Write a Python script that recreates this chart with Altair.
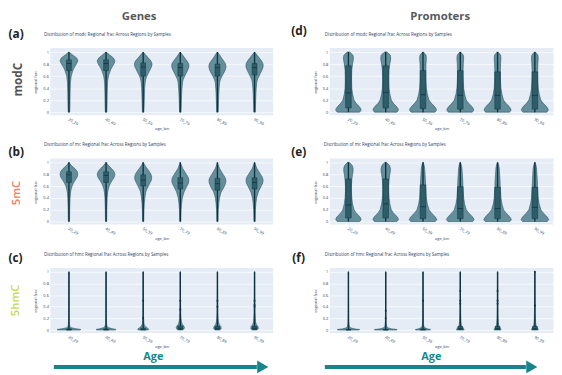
import altair as alt
import pandas as pd

AGE_BINS = ["20_29", "40_49", "50_59", "70_79", "80_89", "90_99"]
Y_TICKS = [0, 0.2, 0.4, 0.6, 0.8, 1]

# ---------- (a) modC, genes ----------
A_LEVELS = [0, 0.1, 0.2, 0.3, 0.4, 0.5, 0.55, 0.6, 0.65, 0.7, 0.75, 0.8, 0.85, 0.9, 0.95, 1.0]
A_WIDTHS = [
    [0.02, 0.025, 0.028, 0.03, 0.034, 0.04, 0.05, 0.06, 0.085, 0.11, 0.15, 0.2, 0.24, 0.21, 0.1, 0.0],
    [0.02, 0.025, 0.028, 0.03, 0.034, 0.04, 0.05, 0.065, 0.09, 0.12, 0.16, 0.21, 0.24, 0.2, 0.1, 0.0],
    [0.02, 0.025, 0.03, 0.035, 0.04, 0.055, 0.07, 0.1, 0.14, 0.18, 0.22, 0.24, 0.21, 0.14, 0.07, 0.0],
    [0.02, 0.025, 0.03, 0.035, 0.045, 0.06, 0.08, 0.12, 0.16, 0.2, 0.23, 0.23, 0.18, 0.12, 0.06, 0.0],
    [0.02, 0.025, 0.03, 0.035, 0.045, 0.06, 0.085, 0.125, 0.17, 0.21, 0.23, 0.22, 0.17, 0.11, 0.06, 0.0],
    [0.02, 0.025, 0.03, 0.035, 0.045, 0.06, 0.08, 0.12, 0.16, 0.2, 0.23, 0.23, 0.19, 0.13, 0.065, 0.0],
]
A_Q1 = [0.69, 0.69, 0.60, 0.60, 0.60, 0.62]
A_MED = [0.81, 0.81, 0.75, 0.74, 0.74, 0.74]
A_Q3 = [0.87, 0.87, 0.82, 0.81, 0.80, 0.81]

# ---------- (b) 5mC, genes ----------
B_LEVELS = [0, 0.1, 0.2, 0.3, 0.4, 0.5, 0.55, 0.6, 0.65, 0.7, 0.75, 0.8, 0.85, 0.9, 0.95, 1.0]
B_WIDTHS = [
    [0.015, 0.018, 0.02, 0.025, 0.03, 0.045, 0.06, 0.085, 0.12, 0.17, 0.22, 0.24, 0.22, 0.15, 0.06, 0.0],
    [0.015, 0.018, 0.02, 0.025, 0.03, 0.045, 0.06, 0.085, 0.12, 0.17, 0.22, 0.24, 0.21, 0.14, 0.06, 0.0],
    [0.015, 0.018, 0.022, 0.03, 0.045, 0.07, 0.1, 0.14, 0.18, 0.22, 0.23, 0.21, 0.16, 0.1, 0.045, 0.0],
    [0.015, 0.018, 0.022, 0.035, 0.055, 0.1, 0.14, 0.18, 0.22, 0.23, 0.21, 0.16, 0.11, 0.06, 0.03, 0.0],
    [0.015, 0.018, 0.022, 0.035, 0.055, 0.1, 0.15, 0.19, 0.22, 0.23, 0.2, 0.15, 0.1, 0.055, 0.025, 0.0],
    [0.015, 0.018, 0.022, 0.035, 0.055, 0.1, 0.14, 0.18, 0.22, 0.23, 0.21, 0.16, 0.11, 0.06, 0.03, 0.0],
]
B_Q1 = [0.66, 0.66, 0.60, 0.55, 0.53, 0.55]
B_MED = [0.79, 0.78, 0.70, 0.65, 0.64, 0.66]
B_Q3 = [0.84, 0.84, 0.79, 0.74, 0.73, 0.74]

# ---------- (c) 5hmC, genes ----------
C_LEVELS = [0, 0.01, 0.02, 0.04, 0.06, 0.08, 0.1, 0.15, 0.2, 0.3, 0.5, 0.7, 1.0]
C_WIDTHS = [
    [0.30, 0.32, 0.20, 0.06, 0.03, 0.02, 0.015, 0.01, 0.008, 0.006, 0.005, 0.004, 0.003],
    [0.25, 0.27, 0.18, 0.07, 0.035, 0.02, 0.015, 0.01, 0.008, 0.006, 0.005, 0.004, 0.003],
    [0.12, 0.15, 0.14, 0.10, 0.06, 0.04, 0.025, 0.015, 0.01, 0.007, 0.005, 0.004, 0.003],
    [0.06, 0.08, 0.10, 0.11, 0.10, 0.08, 0.05, 0.03, 0.02, 0.012, 0.006, 0.004, 0.003],
    [0.06, 0.08, 0.10, 0.10, 0.09, 0.07, 0.045, 0.025, 0.018, 0.01, 0.006, 0.004, 0.003],
    [0.06, 0.08, 0.10, 0.10, 0.09, 0.07, 0.045, 0.025, 0.02, 0.012, 0.006, 0.004, 0.003],
]
C_Q1 = [0.0, 0.0, 0.0, 0.01, 0.01, 0.01]
C_MED = [0.005, 0.005, 0.01, 0.03, 0.03, 0.03]
C_Q3 = [0.02, 0.02, 0.03, 0.07, 0.06, 0.06]
C_PT_IDX = [2, 2, 3, 3, 4, 4, 5, 5, 5]
C_PT_Y = [0.5, 0.2, 0.5, 0.35, 0.5, 0.4, 0.5, 0.43, 0.4]

# ---------- (d) modC, promoters ----------
D_LEVELS = [0, 0.03, 0.06, 0.1, 0.15, 0.2, 0.3, 0.4, 0.5, 0.6, 0.7, 0.8, 0.85, 0.9, 0.95, 1.0]
D_WIDTHS = [
    [0.30, 0.34, 0.33, 0.28, 0.20, 0.15, 0.11, 0.09, 0.085, 0.085, 0.09, 0.11, 0.125, 0.135, 0.12, 0.03],
    [0.30, 0.34, 0.33, 0.28, 0.20, 0.15, 0.11, 0.09, 0.085, 0.085, 0.09, 0.11, 0.125, 0.135, 0.12, 0.03],
    [0.32, 0.36, 0.35, 0.30, 0.22, 0.16, 0.115, 0.09, 0.08, 0.075, 0.075, 0.08, 0.085, 0.09, 0.08, 0.01],
    [0.32, 0.36, 0.35, 0.30, 0.22, 0.16, 0.115, 0.09, 0.08, 0.075, 0.075, 0.08, 0.085, 0.09, 0.08, 0.01],
    [0.32, 0.36, 0.35, 0.30, 0.22, 0.16, 0.115, 0.09, 0.08, 0.075, 0.075, 0.08, 0.085, 0.09, 0.08, 0.01],
    [0.32, 0.36, 0.35, 0.30, 0.22, 0.16, 0.115, 0.09, 0.08, 0.075, 0.075, 0.08, 0.085, 0.09, 0.08, 0.01],
]
D_Q1 = [0.07, 0.07, 0.06, 0.05, 0.05, 0.05]
D_MED = [0.32, 0.33, 0.29, 0.28, 0.28, 0.28]
D_Q3 = [0.77, 0.77, 0.69, 0.69, 0.67, 0.67]

# ---------- (e) 5mC, promoters ----------
E_LEVELS = [0, 0.03, 0.06, 0.1, 0.15, 0.2, 0.3, 0.4, 0.5, 0.6, 0.7, 0.8, 0.85, 0.9, 0.95, 1.0]
E_WIDTHS = [
    [0.30, 0.34, 0.33, 0.28, 0.20, 0.15, 0.11, 0.09, 0.08, 0.08, 0.09, 0.11, 0.125, 0.125, 0.10, 0.02],
    [0.30, 0.34, 0.33, 0.28, 0.20, 0.15, 0.11, 0.09, 0.08, 0.08, 0.09, 0.11, 0.125, 0.125, 0.10, 0.02],
    [0.33, 0.37, 0.35, 0.30, 0.22, 0.16, 0.115, 0.09, 0.08, 0.07, 0.065, 0.055, 0.05, 0.045, 0.03, 0.005],
    [0.33, 0.37, 0.35, 0.30, 0.22, 0.16, 0.115, 0.09, 0.08, 0.07, 0.065, 0.055, 0.05, 0.045, 0.03, 0.005],
    [0.33, 0.37, 0.35, 0.30, 0.22, 0.16, 0.115, 0.09, 0.08, 0.07, 0.065, 0.055, 0.05, 0.045, 0.03, 0.005],
    [0.33, 0.37, 0.35, 0.30, 0.22, 0.16, 0.115, 0.09, 0.08, 0.07, 0.065, 0.055, 0.05, 0.045, 0.03, 0.005],
]
E_Q1 = [0.06, 0.06, 0.05, 0.05, 0.05, 0.05]
E_MED = [0.28, 0.30, 0.25, 0.22, 0.22, 0.24]
E_Q3 = [0.72, 0.72, 0.62, 0.59, 0.58, 0.58]

# ---------- (f) 5hmC, promoters ----------
F_LEVELS = [0, 0.01, 0.02, 0.04, 0.06, 0.08, 0.1, 0.15, 0.2, 0.3, 0.5, 0.7, 1.0]
F_WIDTHS = [
    [0.28, 0.30, 0.15, 0.05, 0.03, 0.02, 0.015, 0.01, 0.008, 0.006, 0.004, 0.003, 0.003],
    [0.30, 0.30, 0.15, 0.05, 0.03, 0.02, 0.015, 0.01, 0.008, 0.006, 0.004, 0.003, 0.003],
    [0.20, 0.20, 0.12, 0.05, 0.03, 0.02, 0.015, 0.012, 0.01, 0.008, 0.005, 0.003, 0.003],
    [0.10, 0.10, 0.09, 0.07, 0.05, 0.035, 0.025, 0.018, 0.014, 0.01, 0.007, 0.004, 0.003],
    [0.09, 0.09, 0.08, 0.065, 0.05, 0.035, 0.025, 0.018, 0.014, 0.01, 0.007, 0.004, 0.003],
    [0.09, 0.09, 0.08, 0.065, 0.05, 0.035, 0.025, 0.018, 0.014, 0.01, 0.007, 0.004, 0.003],
]
F_Q1 = [0.0, 0.0, 0.0, 0.01, 0.01, 0.01]
F_MED = [0.003, 0.003, 0.005, 0.02, 0.02, 0.02]
F_Q3 = [0.01, 0.01, 0.02, 0.06, 0.06, 0.06]
F_PT_IDX = [1, 1, 2, 3, 3, 3, 4, 4, 4, 5, 5]
F_PT_Y = [0.33, 0.2, 0.5, 0.67, 0.5, 0.45, 0.67, 0.5, 0.45, 1.0, 0.42]

MIN_V = [0, 0, 0, 0, 0, 0]
MAX_V = [1, 1, 1, 1, 1, 1]

VIOLIN_FILL = "#5f8a97"
VIOLIN_LINE = "#234f5c"
BOX_FILL = "#2f5c69"
WHISKER = "#0c3540"
TEAL = "#17868b"
FONT = "Open Sans"
PLOTLY_TXT = "#2a3f5f"

W1, W2 = 226, 227
H1, H2, H3 = 68, 67, 66


def text_layer(txt, x, y, size, color, weight="normal", angle=0, align="left"):
    return alt.Chart(alt.Data(values=[{}])).mark_text(
        text=txt, fontSize=size, font=FONT, color=color, fontWeight=weight,
        angle=angle, align=align, baseline="middle"
    ).encode(x=alt.value(x), y=alt.value(y))


def panel(levels, widths, q1, med, q3, width, height, box_hw, title_txt, texts, pts=None):
    rows = []
    for i, ws in enumerate(widths):
        for yv, wv in zip(levels, ws):
            rows.append({"idx": i, "y": yv, "w": wv})
    vdf = pd.DataFrame(rows)
    bdf = pd.DataFrame({"idx": list(range(6)), "q1": q1, "med": med, "q3": q3,
                        "lo": MIN_V, "hi": MAX_V})

    label_expr = "[" + ",".join("'%s'" % a for a in AGE_BINS) + "][datum.value]"
    xs = alt.Scale(domain=[-0.5, 5.5], nice=False, zero=False)
    ys = alt.Scale(domain=[-0.05, 1.065], nice=False, zero=False)

    def xaxis():
        return alt.Axis(values=list(range(6)), labelExpr=label_expr, labelAngle=30,
                        labelFontSize=4, labelColor=PLOTLY_TXT, labelFont=FONT,
                        labelPadding=2, ticks=False, domain=False, grid=False,
                        labelOverlap=False,
                        title="age_bin", titleFontSize=4, titleFont=FONT,
                        titleColor=PLOTLY_TXT, titleFontWeight="normal", titlePadding=1)

    def yaxis():
        return alt.Axis(values=Y_TICKS, format="~g", labelFontSize=4,
                        labelColor=PLOTLY_TXT, labelFont=FONT, labelPadding=2,
                        labelOverlap=False, labelFlush=False,
                        ticks=False, domain=False, grid=True, gridColor="white",
                        gridWidth=0.7, title="regional frac", titleFontSize=4,
                        titleFont=FONT, titleColor=PLOTLY_TXT,
                        titleFontWeight="normal", titlePadding=5)

    violin = alt.Chart(vdf).transform_calculate(
        xl="datum.idx - datum.w", xr="datum.idx + datum.w"
    ).mark_area(orient="horizontal", color=VIOLIN_FILL, opacity=0.95,
                stroke=VIOLIN_LINE, strokeWidth=0.6).encode(
        y=alt.Y("y:Q", scale=ys, axis=yaxis()),
        x=alt.X("xl:Q", scale=xs, axis=xaxis()),
        x2="xr:Q",
        detail="idx:N",
    )
    bbase = alt.Chart(bdf).transform_calculate(
        bl="datum.idx - %f" % box_hw, br="datum.idx + %f" % box_hw
    )
    whisk = bbase.mark_rule(color=WHISKER, strokeWidth=1.4).encode(
        x=alt.X("idx:Q", scale=xs, axis=xaxis()),
        y=alt.Y("lo:Q", scale=ys, axis=yaxis()), y2="hi:Q")
    box = bbase.mark_rect(color=BOX_FILL, stroke=WHISKER, strokeWidth=0.5).encode(
        x=alt.X("bl:Q", scale=xs, axis=xaxis()), x2="br:Q",
        y=alt.Y("q1:Q", scale=ys, axis=yaxis()), y2="q3:Q")
    medl = bbase.mark_rule(color=WHISKER, strokeWidth=0.8).encode(
        x=alt.X("bl:Q", scale=xs, axis=xaxis()), x2="br:Q",
        y=alt.Y("med:Q", scale=ys, axis=yaxis()))
    layers = [violin, whisk, box, medl]
    if pts is not None:
        pdf = pd.DataFrame({"idx": pts[0], "y": pts[1]})
        layers.append(alt.Chart(pdf).mark_circle(size=4, color=WHISKER, opacity=1).encode(
            x=alt.X("idx:Q", scale=xs, axis=xaxis()),
            y=alt.Y("y:Q", scale=ys, axis=yaxis())))
    layers.append(text_layer(title_txt, texts["tx"], texts["ty"], 4.5, PLOTLY_TXT))
    layers.extend(texts["extra"])
    return alt.layer(*layers).properties(width=width, height=height)


def arrow(x1, x2, y):
    line = alt.Chart(alt.Data(values=[{}])).mark_rule(
        color=TEAL, strokeWidth=4, strokeCap="butt").encode(
        x=alt.value(x1), x2=alt.value(x2), y=alt.value(y))
    head = alt.Chart(alt.Data(values=[{}])).mark_point(
        shape="triangle-right", filled=True, size=170, color=TEAL, opacity=1).encode(
        x=alt.value(x2 + 6), y=alt.value(y))
    return [line, head]


anchor = alt.Chart(alt.Data(values=[{}])).mark_point(
    shape="square", size=1, opacity=0, filled=True).encode(
    x=alt.value(-42.5), y=alt.value(-37))

pa = panel(A_LEVELS, A_WIDTHS, A_Q1, A_MED, A_Q3, W1, H1, 0.065,
           "Distribution of modc Regional frac Across Regions by Samples",
           {"tx": -6.5, "ty": -13, "extra": [
               anchor,
               text_layer("Genes", 90, -31.5, 11.5, "#595959", "bold", align="center"),
               text_layer("(a)", -42.5, -14.5, 12, "#222222", "bold"),
               text_layer("modC", -32.5, 32, 12, "#555555", "bold", angle=270, align="center"),
           ]})
pb = panel(B_LEVELS, B_WIDTHS, B_Q1, B_MED, B_Q3, W1, H2, 0.065,
           "Distribution of mc Regional frac Across Regions by Samples",
           {"tx": -6.5, "ty": -14, "extra": [
               text_layer("(b)", -42.5, -7, 12, "#222222", "bold"),
               text_layer("5mC", -34, 35, 11.5, "#f47c5c", 600, angle=270, align="center"),
           ]})
pc = panel(C_LEVELS, C_WIDTHS, C_Q1, C_MED, C_Q3, W1, H3, 0.065,
           "Distribution of hmc Regional frac Across Regions by Samples",
           {"tx": -6.5, "ty": -13, "extra": [
               text_layer("(c)", -42.5, -10, 12, "#222222", "bold"),
               text_layer("5hmC", -35, 33, 11.5, "#c5db4c", 600, angle=270, align="center"),
               text_layer("Age", 104.5, 90.5, 11, TEAL, "bold", align="center"),
           ] + arrow(3.5, 209.5, 100.5)},
           pts=(C_PT_IDX, C_PT_Y))
pd_ = panel(D_LEVELS, D_WIDTHS, D_Q1, D_MED, D_Q3, W2, H1, 0.075,
            "Distribution of modc Regional frac Across Regions by Samples",
            {"tx": -5, "ty": -13, "extra": [
                text_layer("Promoters", 112, -31.5, 11.5, "#595959", "bold", align="center"),
                text_layer("(d)", -39, -17, 12, "#222222", "bold"),
            ]})
pe = panel(E_LEVELS, E_WIDTHS, E_Q1, E_MED, E_Q3, W2, H2, 0.075,
           "Distribution of mc Regional frac Across Regions by Samples",
           {"tx": -6, "ty": -14, "extra": [
               text_layer("(e)", -39, -7, 12, "#222222", "bold"),
           ]})
pf = panel(F_LEVELS, F_WIDTHS, F_Q1, F_MED, F_Q3, W2, H3, 0.065,
           "Distribution of hmc Regional frac Across Regions by Samples",
           {"tx": -5, "ty": -13, "extra": [
               text_layer("(f)", -38, -10, 12, "#222222", "bold"),
               text_layer("Age", 103, 90.5, 11, TEAL, "bold", align="center"),
           ] + arrow(-5, 199, 100.5)},
           pts=(F_PT_IDX, F_PT_Y))

chart = alt.concat(pa, pd_, pb, pe, pc, pf, columns=2,
                   spacing={"row": 44, "column": 57.5}, bounds="flush").configure(
    padding=0, background="white"
).configure_view(fill="#E5ECF6", stroke=None)

chart.save("out.html", embed_options={"renderer": "svg", "actions": False})
